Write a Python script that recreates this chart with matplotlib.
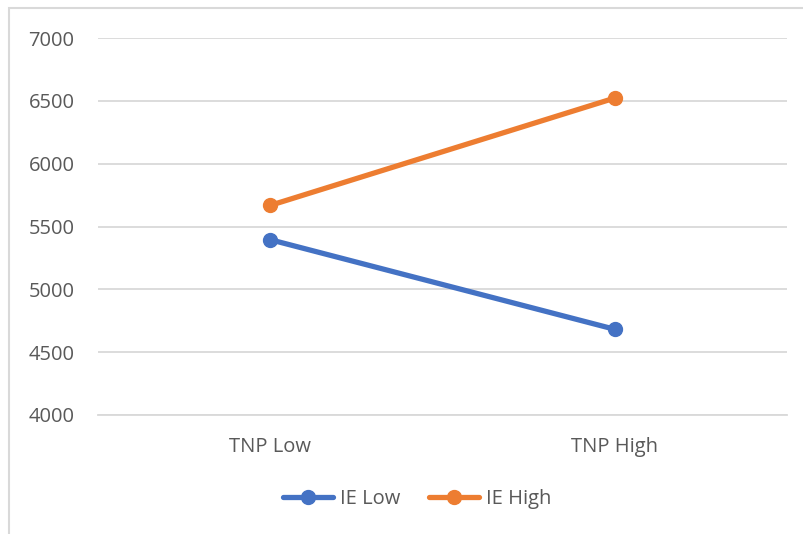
import matplotlib.pyplot as plt
import matplotlib.patches as patches

categories = ['TNP Low', 'TNP High']
ie_low = [5395, 4682]
ie_high = [5668, 6522]

plt.rcParams['font.family'] = ['Open Sans', 'DejaVu Sans']

fig = plt.figure(figsize=(8.04, 5.34), dpi=100)
W, H = 804, 534
ax = fig.add_axes([98 / W, 1 - 415 / H, (787 - 98) / W, (415 - 38) / H])

x = range(len(categories))
ax.plot(x, ie_low, color='#4472C4', lw=3.8, marker='o', ms=10, label='IE Low',
        solid_capstyle='round')
ax.plot(x, ie_high, color='#ED7D31', lw=3.8, marker='o', ms=10, label='IE High',
        solid_capstyle='round')

ax.set_xlim(-0.5, 1.5)
ax.set_ylim(4000, 7000)
ax.set_yticks(range(4000, 7001, 500))
ax.set_xticks(list(x))
ax.set_xticklabels(categories)
ax.grid(axis='y', color='#d9d9d9', lw=1.3)
ax.set_axisbelow(True)
for s in ['top', 'right', 'left']:
    ax.spines[s].set_visible(False)
ax.spines['bottom'].set_color('#d9d9d9')
ax.spines['bottom'].set_linewidth(1.3)
ax.tick_params(length=0, labelsize=14.5, labelcolor='#595959')
ax.tick_params(axis='y', pad=17)
ax.tick_params(axis='x', pad=16)

leg = fig.legend(loc='center', bbox_to_anchor=(417 / W, 1 - 499 / H), ncol=2,
                 frameon=False, fontsize=14.5, handlelength=2.5, columnspacing=1.4,
                 handletextpad=0.35)
for t in leg.get_texts():
    t.set_color('#595959')

# chart area frame
fig.patches.append(patches.Rectangle((9 / W, -0.1), 1.0, 1 - 8 / H + 0.1,
                                     transform=fig.transFigure, fill=False,
                                     edgecolor='#d9d9d9', lw=1.5))

fig.savefig('out.png', dpi=100)
